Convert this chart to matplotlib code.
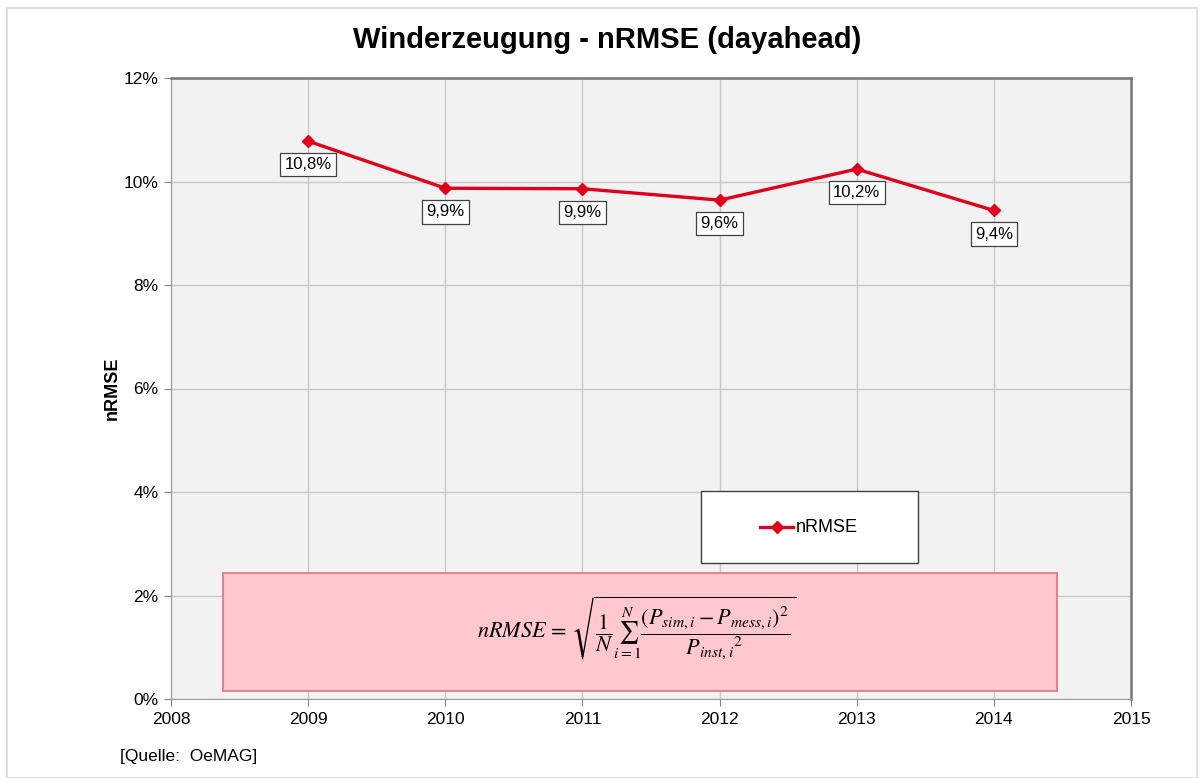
import matplotlib.pyplot as plt
from matplotlib.ticker import FuncFormatter, MultipleLocator
from matplotlib.patches import Rectangle

plt.rcParams['font.family'] = ['Liberation Sans', 'DejaVu Sans']
plt.rcParams['mathtext.fontset'] = 'stix'

# Daten
jahre = [2009, 2010, 2011, 2012, 2013, 2014]
nrmse = [10.78, 9.87, 9.86, 9.64, 10.24, 9.44]

rot = '#E0001B'

fig = plt.figure(figsize=(12.02, 7.78), dpi=100)
ax = fig.add_axes([171 / 1202, 79 / 778, 960 / 1202, 621 / 778])
ax.set_facecolor('#F2F2F2')

# Rahmen um die ganze Grafik
fig.patches.append(Rectangle((7 / 1202, 0), 1190 / 1202, 770 / 778, transform=fig.transFigure,
                             fill=False, edgecolor='#D9D9D9', linewidth=1.2))

ax.plot(jahre, nrmse, color=rot, linewidth=2.4, marker='D', markersize=6.5, label='nRMSE', zorder=3)

# Wertebeschriftungen
for x, y in zip(jahre, nrmse):
    txt = f'{y:.1f}%'.replace('.', ',')
    ax.annotate(txt, (x, y), xytext=(0, -17), textcoords='offset points', ha='center', va='center',
                fontsize=12, bbox=dict(boxstyle='square,pad=0.25', facecolor='white', edgecolor='#404040', linewidth=0.9),
                zorder=4)

ax.set_xlim(2008, 2015)
ax.set_ylim(0, 12)
ax.xaxis.set_major_locator(MultipleLocator(1))
ax.yaxis.set_major_locator(MultipleLocator(2))
ax.yaxis.set_major_formatter(FuncFormatter(lambda v, p: f'{v:.0f}%'))
ax.grid(True, color='#C8C8C8', linewidth=1)
ax.set_axisbelow(True)
ax.tick_params(labelsize=12.5, length=5, color='#888888', pad=4)
for s in ['left', 'bottom']:
    ax.spines[s].set_color('#999999')
for s in ['top', 'right']:
    ax.spines[s].set_color('#777777')
    ax.spines[s].set_linewidth(1.8)

ax.set_ylabel('nRMSE', fontsize=13, fontweight='bold', labelpad=2)
fig.text(607 / 1202, 1 - 40 / 778, 'Winderzeugung - nRMSE (dayahead)', ha='center', va='center',
         fontsize=21, fontweight='bold')
fig.text(120 / 1202, 1 - 757 / 778, '[Quelle:  OeMAG]', ha='left', va='center', fontsize=12.5)

# Formelkasten
ax.add_patch(Rectangle(((223 - 171) / 960, 8 / 621), (1057 - 223) / 960, (691 - 573) / 621,
                       transform=ax.transAxes, facecolor='#FFC7CE', edgecolor='#E07080', linewidth=1.2, zorder=2))
formel = r'$nRMSE\,=\,\sqrt{\dfrac{1}{N}\sum_{i=1}^{N}\dfrac{(P_{sim,i}-P_{mess,i})^2}{{P_{inst,i}}^2}}$'
ax.text((637 - 171) / 960, (699 - 628) / 621, formel, transform=ax.transAxes, ha='center', va='center',
        fontsize=16, zorder=3)

# Legende
ax.add_patch(Rectangle(((701 - 171) / 960, (699 - 563) / 621), 217 / 960, 72 / 621,
                       transform=ax.transAxes, facecolor='white', edgecolor='#404040', linewidth=1, zorder=2))
ax.plot([(760 - 171) / 960, (793 - 171) / 960], [(699 - 527) / 621] * 2, transform=ax.transAxes,
        color=rot, linewidth=2.4, zorder=3)
ax.plot([(777 - 171) / 960], [(699 - 527) / 621], transform=ax.transAxes, color=rot, marker='D',
        markersize=6.5, zorder=3)
ax.text((796 - 171) / 960, (699 - 527) / 621, 'nRMSE', transform=ax.transAxes, ha='left', va='center',
        fontsize=13, zorder=3)

fig.savefig('out.png', dpi=100)
